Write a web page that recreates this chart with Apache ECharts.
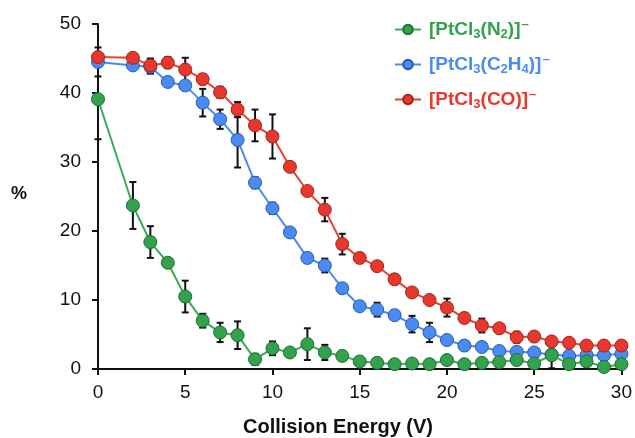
<!DOCTYPE html>
<html>
<head>
<meta charset="utf-8">
<script src="https://cdn.jsdelivr.net/npm/echarts@6/dist/echarts.min.js"></script>
<style>
  html, body { margin: 0; padding: 0; background: #fff; }
  #chart { width: 635px; height: 438px; }
</style>
</head>
<body>
<div id="chart"></div>
<script>
// collision energy (V)
var energy = [0, 2, 3, 4, 5, 6, 7, 8, 9, 10, 11, 12, 13, 14, 15, 16, 17, 18, 19, 20, 21, 22, 23, 24, 25, 26, 27, 28, 29, 30];

var n2 = [39.1, 23.7, 18.4, 15.4, 10.5, 7.0, 5.3, 4.9, 1.4, 3.0, 2.4, 3.6, 2.4, 1.9, 1.1, 0.9, 0.7, 0.8, 0.7, 1.3, 0.7, 0.9, 1.0, 1.3, 0.8, 2.0, 0.7, 1.1, 0.3, 0.7];
var n2Err = [5.8, 3.4, 2.3, 0, 2.3, 1.0, 1.4, 2.0, 0.8, 1.0, 0, 2.3, 1.1, 0, 0, 0, 0, 0, 0, 0, 0, 0, 0, 0, 0, 1.9, 0, 0, 0, 0];

var c2h4 = [44.5, 44.0, 43.8, 41.6, 41.1, 38.6, 36.2, 33.2, 27.0, 23.3, 19.8, 16.1, 15.0, 11.7, 9.1, 8.6, 7.8, 6.5, 5.3, 4.2, 3.4, 3.2, 2.6, 2.5, 2.4, 2.1, 1.9, 2.0, 2.0, 2.2];
var c2h4Err = [2.1, 0, 1.0, 0.6, 0, 2.0, 1.4, 4.0, 0.8, 0.8, 0, 0, 1.0, 0, 0, 1.0, 0, 1.2, 1.4, 0, 0, 0, 0, 0, 0, 0, 0, 0, 0, 0];

var co = [45.2, 45.1, 44.0, 44.4, 43.4, 42.0, 40.1, 37.6, 35.3, 33.7, 29.3, 25.8, 23.1, 18.1, 16.1, 14.9, 13.0, 11.1, 10.0, 8.9, 7.4, 6.3, 5.9, 4.6, 4.7, 4.0, 3.8, 3.4, 3.4, 3.4];
var coErr = [0, 0, 1.0, 0.8, 1.7, 0.7, 0.8, 1.1, 2.3, 3.2, 0, 0, 1.7, 1.5, 0, 0, 0, 0, 0, 1.3, 0, 1.0, 0, 0.8, 0, 0, 0, 0, 0, 0];

var xTicks = [0, 5, 10, 15, 20, 25, 30];
var yTicks = [0, 10, 20, 30, 40, 50];

var names = {
    n2: '[PtCl3(N2)]-',
    c2h4: '[PtCl3(C2H4)]-',
    co: '[PtCl3(CO)]-'
};

var colors = {
    n2: { fill: '#32a24c', border: '#1f6e33', line: '#3bab55' },
    c2h4: { fill: '#4a8af4', border: '#2a5aa8', line: '#4a8af4' },
    co: { fill: '#e8382d', border: '#9e241c', line: '#e8412f' }
};

var FONT = 'Liberation Sans, Arial, sans-serif';

function pairs(ys) {
    return energy.map(function (x, i) { return [x, ys[i]]; });
}

function errData(ys, errs) {
    return energy.map(function (x, i) { return [x, ys[i], errs[i]]; });
}

function renderErr(params, api) {
    var err = api.value(2);
    if (!err) return null;
    var x = api.value(0), y = api.value(1);
    var top = api.coord([x, y + err]);
    var bot = api.coord([x, Math.max(0, y - err)]);
    var hw = 3.5;
    var style = { stroke: '#111', lineWidth: 2 };
    return {
        type: 'group',
        children: [
            { type: 'line', shape: { x1: top[0], y1: top[1], x2: bot[0], y2: bot[1] }, style: style },
            { type: 'line', shape: { x1: top[0] - hw, y1: top[1], x2: top[0] + hw, y2: top[1] }, style: style },
            { type: 'line', shape: { x1: bot[0] - hw, y1: bot[1], x2: bot[0] + hw, y2: bot[1] }, style: style }
        ]
    };
}

function lineSeries(key, data) {
    var c = colors[key];
    return {
        type: 'line',
        name: names[key],
        data: pairs(data),
        symbol: 'circle',
        symbolSize: 13,
        z: 3,
        lineStyle: { color: c.line, width: 2 },
        itemStyle: { color: c.fill, borderColor: c.border, borderWidth: 1 }
    };
}

function errSeries(ys, errs) {
    return {
        type: 'custom',
        renderItem: renderErr,
        data: errData(ys, errs),
        z: 2,
        silent: true
    };
}

// legend text with sub/superscripts
function legendLabel(name) {
    var k = name === names.n2 ? 'g' : (name === names.c2h4 ? 'b' : 'r');
    var m = function (t) { return '{' + k + '|' + t + '}'; };
    var s = function (t) { return '{' + k + 's|' + t + '}'; };
    var p = '{' + k + 'p|\u2013}';
    if (k === 'g') return m('[PtCl') + s('3') + m('(N') + s('2') + m(')]') + p;
    if (k === 'b') return m('[PtCl') + s('3') + m('(C') + s('2') + m('H') + s('4') + m(')]') + p;
    return m('[PtCl') + s('3') + m('(CO)]') + p;
}

function richFor(color) {
    return {
        main: { color: color, fontSize: 19, fontWeight: 'bold', fontFamily: FONT, lineHeight: 22, verticalAlign: 'middle' },
        sub: { color: color, fontSize: 13, fontWeight: 'bold', fontFamily: FONT, lineHeight: 22, padding: [10, 0, 0, 0], verticalAlign: 'middle' },
        sup: { color: color, fontSize: 13, fontWeight: 'bold', fontFamily: FONT, lineHeight: 22, padding: [0, 0, 10, 1], verticalAlign: 'middle' }
    };
}

var rg = richFor(colors.n2.fill), rb = richFor(colors.c2h4.fill), rr = richFor(colors.co.fill);

var chart = echarts.init(document.getElementById('chart'));
chart.setOption({
    animation: false,
    backgroundColor: '#fff',
    grid: { left: 98, right: 13, top: 24, bottom: 69 },
    legend: {
        orient: 'vertical',
        left: 389,
        top: 13,
        itemGap: 12,
        itemWidth: 26,
        itemHeight: 12,
        data: [names.n2, names.c2h4, names.co],
        formatter: legendLabel,
        textStyle: {
            padding: [0, 0, 0, 3],
            rich: {
                g: rg.main, gs: rg.sub, gp: rg.sup,
                b: rb.main, bs: rb.sub, bp: rb.sup,
                r: rr.main, rs: rr.sub, rp: rr.sup
            }
        }
    },
    xAxis: {
        type: 'value',
        min: xTicks[0],
        max: xTicks[xTicks.length - 1],
        interval: 5,
        splitLine: { show: false },
        axisLine: { lineStyle: { color: '#111', width: 2 } },
        axisTick: { length: 6, lineStyle: { color: '#111', width: 2 } },
        axisLabel: { color: '#111', fontSize: 19, margin: 14, fontFamily: FONT }
    },
    yAxis: {
        type: 'value',
        min: yTicks[0],
        max: yTicks[yTicks.length - 1],
        interval: 10,
        splitLine: { show: false },
        axisLine: { show: true, lineStyle: { color: '#111', width: 2 } },
        axisTick: { show: true, length: 6, lineStyle: { color: '#111', width: 2 } },
        axisLabel: { color: '#111', fontSize: 19, margin: 17, fontFamily: FONT }
    },
    graphic: [
        { type: 'text', left: 11, top: 185, style: { text: '%', fontSize: 18, fontWeight: 'bold', fill: '#111', fontFamily: FONT } },
        { type: 'text', left: 243, top: 417, style: { text: 'Collision Energy (V)', fontSize: 20, fontWeight: 'bold', fill: '#111', fontFamily: FONT } }
    ],
    series: [
        errSeries(c2h4, c2h4Err),
        errSeries(co, coErr),
        errSeries(n2, n2Err),
        lineSeries('c2h4', c2h4),
        lineSeries('co', co),
        lineSeries('n2', n2)
    ]
});
</script>
</body>
</html>
